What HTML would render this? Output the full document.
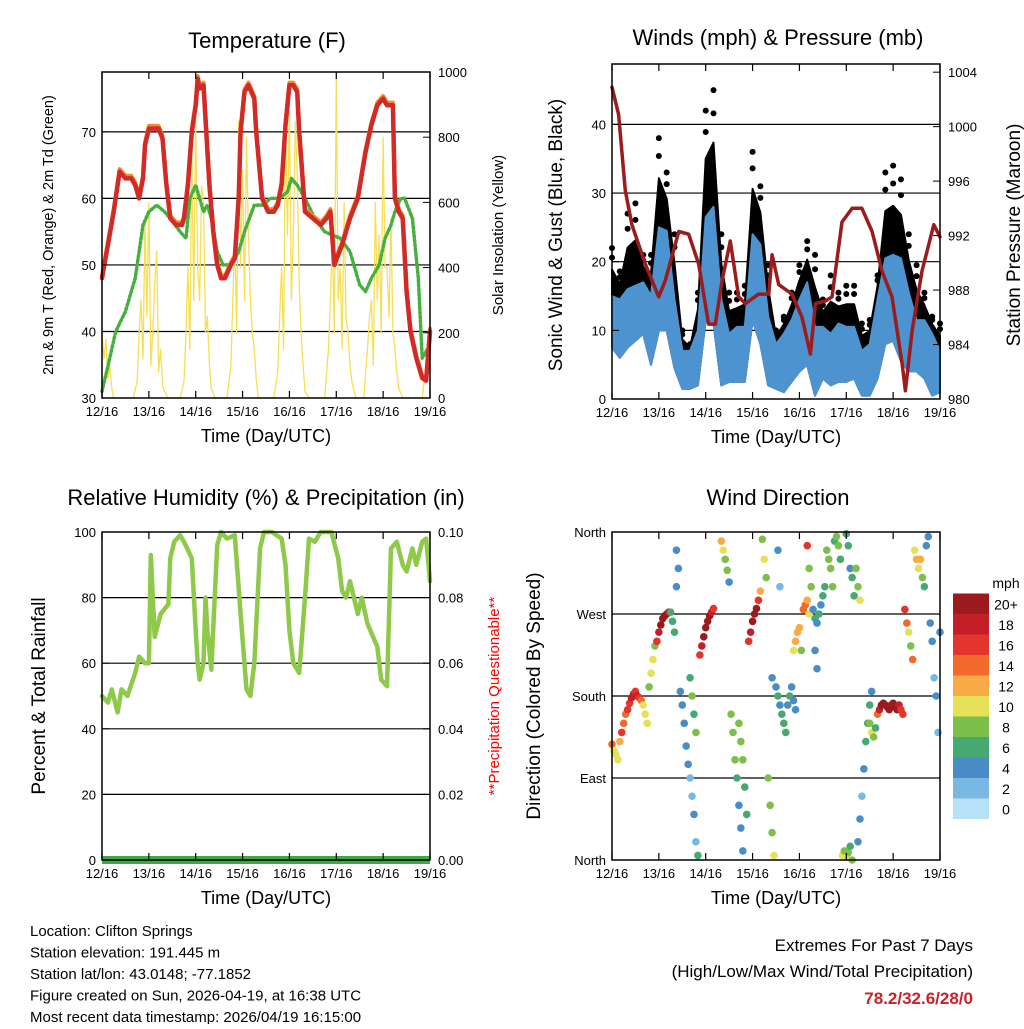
<!DOCTYPE html>
<html><head><meta charset="utf-8"><style>
body{margin:0;background:#fff;}
svg text{font-family:"Liberation Sans",sans-serif;fill:#000;}
</style></head><body>
<svg id="c" width="1024" height="1024" viewBox="0 0 1024 1024" xmlns="http://www.w3.org/2000/svg"></svg>
<script>
// ---------- DATA ----------
const dayLabels=["12/16","13/16","14/16","15/16","16/16","17/16","18/16","19/16"];
const tempHours=[0,3,6,9,12,15,17,19,21,22,24,27,29,31,33,35,38,41,42,44,46,48,49,50,52,53,55,57,59,61,63,66,68,70,71,73,75,78,79,82,85,88,90,92,94,96,98,100,101,104,108,112,115,117,119,123,127,131,135,138,141,144,146,149,150,152,154,156,158,161,164,166,168];
const tempVals=[48,53,58,64,63,63,62,60,63,68,70.5,70.5,70.5,69,62,57,56,56,57,62,70,74,78,76.5,77,72,62,55,50,48,48,50,51,60,70,76,77,75,70,60,58,58,59,62,71,77,77,76,70,58,57,56,57,58,50,53,57,60,67,71,74,75,74,74,60,58,57,46,40,36,33,32.6,40];
const dewHours=[0,4,7,12,17,19,21,24,28,32,35,40,43,45,48,52,54,56,59,62,66,70,73,78,83,86,91,95,97,100,104,109,114,122,127,132,135,138,142,145,148,150,153,155,159,162,164,168];
const dewVals=[31,36,40,43,48,52,56,58,59,58,57,55,54,60,62,58,59,57,52,50,50,52,55,59,59,60,60,61,63,62,60,57,55,54,52,47,46,48,50,54,56,58,60,60,57,48,36,38];
const solarHours=[0,1,2,3,4,5,6,16,18,19,20,21,22,23,24,25,26,27,28,29,30,31,32,34,40,42,43,44,45,46,47,48,49,50,51,52,53,54,55,56,58,64,66,67,68,69,70,71,72,73,74,75,76,77,78,79,80,88,90,91,92,93,94,95,96,97,98,99,100,101,102,103,104,106,114,116,117,118,119,120,121,122,123,124,125,126,127,128,130,134,136,137,138,139,140,141,142,143,144,145,146,147,148,149,150,151,152,154,164,166,168];
const solarVals=[200,120,180,60,100,30,0,0,50,200,300,120,550,250,600,100,200,350,450,80,150,40,20,0,0,50,200,400,150,750,300,850,400,300,650,600,200,250,100,30,0,0,100,300,500,200,850,400,700,300,800,500,300,200,150,60,0,0,80,250,400,150,880,500,900,300,500,850,700,350,200,100,20,0,0,150,300,500,200,1000,300,400,150,600,250,200,100,50,0,0,150,250,300,100,600,300,500,200,800,400,400,250,550,200,150,80,30,0,0,100,150];
// winds (4-hourly)
const windHours=[0,4,8,12,16,20,24,28,32,36,40,44,48,52,56,60,64,68,72,76,80,84,88,92,96,100,104,108,112,116,120,124,128,132,136,140,144,148,152,156,160,164,168];
const windLo=[7.5,6,7.5,8.5,9.5,5,10,10,4.5,1.5,1.5,2,11.5,11,2,2.5,2.5,2.5,11.5,8,2,1.5,1,2.5,4,5,0.5,3,2,2.5,2.5,3,0.5,0.5,3,8,8.5,5.5,4,4,3,0.5,1];
const windHi=[15,14.5,16,16.5,17,15,25,24.5,14.5,7,7,10,26.5,28,14.5,9.5,10.5,10.5,24,22.5,12,8,9.5,11.5,14.5,17,10.5,10.5,9.5,11,10.5,10.5,7,8,14.5,20.5,21,20.5,15.5,11.5,11.5,9.5,7];
const gustVals=[22,18.6,27,28.5,21,21,38,33,24,10,8,15.5,42,45,24,15.5,15.5,16.5,36,31,19.5,10,12,15.5,19.5,23,21,14.5,18,15.5,16.5,16.5,11,11.5,18,33,34,32,24,19.5,15.5,12,11];
const presHours=[0,3.4,6.8,10.2,17.1,23.9,27.3,34.2,39.3,44.4,49.5,52.9,56.4,60.6,64.9,68.3,75.1,80.3,82,85.4,92.2,97.3,101.6,104.2,109.3,112.7,117.8,123,128,133.2,138.3,143.4,148.6,150.3,153.7,158.8,164.8,168];
const presVals=[1002.9,1000.9,995.3,992.8,989.9,987.5,988.7,992.3,992.1,989.9,985.5,985.5,988.7,991.6,987.5,987,987.7,987.7,990.6,988.4,987.7,986,983.3,987,987.2,987.5,993,994,994,992.3,989.4,987.5,982.6,980.6,985,989.4,992.8,991.9];
// relative humidity
const rhHours=[0,3,5,8,10,13,17,19,22,24,25,27,30,34,35,37,40,42,46,48,49,50,52,53,54,56,59,61,64,68,71,74,76,78,81,83,87,92,94,96,98,101,104,106,109,112,117,117.5,121,123,125,127,131,133,136,141,143,146,148,151,154,156,159,161,164,166,168];
const rhVals=[50,48,52,45,52,50,57,62,60,60,93,68,75,78,92,97,99,97,92,70,60,55,60,80,70,58,96,100,98,99,75,52,50,60,95,100,100,98,90,70,60,57,80,98,97,100,100,100,92,82,80,85,75,80,72,65,55,53,95,97,90,88,95,90,97,98,85];
const precipHours=[0,168];
const precipVals=[0,0];
// wind direction observations
const dirHours=[0,1,2,3,4,5,6,7,8,9,10,11,12,13,14,15,16,17,18,19,20,21,22,23,24,25,26,27,28,29,30,31,32,33,33,34,35,36,37,38,39,40,41,42,43,44,40,41,42,43,45,46,47,48,49,50,51,52,56,57,58,59,60,61,62,63,64,65,66,67,65,66,67,68,69,70,71,72,73,74,75,76,77,78,79,80,81,82,83,82,84,85,86,87,88,89,90,91,92,93,94,85,86,93,94,95,96,97,98,99,100,101,100,101,102,103,104,105,106,107,108,109,104,105,110,111,112,113,114,115,116,117,118,119,120,121,122,123,120,121,122,123,124,125,126,127,126,127,128,129,130,131,132,133,132,133,134,135,136,137,138,139,140,141,142,143,144,145,146,147,148,149,150,151,152,153,154,155,156,157,158,159,160,161,162,163,164,165,166,167,168];
const dirVals=[127,120,116,110,130,140,150,160,165,172,178,182,185,180,178,175,170,160,150,190,205,220,235,240,250,258,265,268,270,272,272,262,250,340,300,320,185,170,150,125,105,90,70,50,20,5,200,180,160,140,225,235,245,255,262,268,272,276,350,340,330,318,305,160,140,110,90,60,35,10,150,130,110,80,50,240,250,262,270,276,285,295,352,330,310,90,60,30,5,200,190,180,170,160,150,140,170,180,190,175,165,340,300,230,240,250,255,230,275,280,285,270,345,320,300,275,265,260,270,280,290,300,230,210,340,330,320,300,350,355,345,330,5,10,3,8,15,0,358,345,320,310,290,320,300,285,20,45,70,100,130,150,170,185,150,140,135,145,160,165,170,172,170,168,165,170,172,168,165,170,165,160,275,260,250,235,220,340,330,320,330,310,300,345,355,260,240,200,180,140,250];
const dirSpeeds=[14,10,9,10,12,16,14,14,16,16,17,18,16,17,15,14,10,10,9,8,9,10,8,16,18,20,20,21,20,18,6,6,6,3,4,4,4,4,4,4,4,2,2,3,2,5,6,7,6,7,16,18,20,20,21,20,18,16,12,10,8,7,4,8,8,7,6,4,4,4,8,8,7,6,5,16,18,20,20,19,16,12,8,9,8,7,8,8,10,4,4,5,4,5,6,6,4,5,4,4,4,3,2,10,12,11,12,8,14,13,12,10,15,8,8,4,5,4,6,4,6,5,4,3,8,7,8,7,6,8,7,5,9,8,10,7,6,8,6,5,4,6,5,8,7,10,3,3,2,4,6,6,5,4,8,10,8,6,14,18,20,21,21,20,21,20,21,19,20,18,16,16,16,14,10,8,14,10,11,10,12,8,6,4,3,4,3,2,4,1,3];
const speedColors=["#b7e2f6","#7ab8e4","#4a8dc6","#48a872","#7cc04a","#e6e158","#f7aa45","#f26a2b","#e2352b","#c41f28","#9a1a1e"];
const speedLabels=["0","2","4","6","8","10","12","14","16","18","20+"];

// ---------- DRAW ----------
const svg=document.getElementById('c');
const NS="http://www.w3.org/2000/svg";
function el(tag,attrs,parent){const e=document.createElementNS(NS,tag);for(const k in attrs)e.setAttribute(k,attrs[k]);(parent||svg).appendChild(e);return e;}
function txt(s,x,y,size,anchor,parent,extra){const t=el('text',Object.assign({x:x,y:y,'font-size':size,'text-anchor':anchor||'middle'},extra||{}),parent);t.textContent=s;return t;}
function lin(d0,d1,r0,r1){return v=>r0+(v-d0)*(r1-r0)/(d1-d0);}

function panel(name){
  const g=el('g',{});
  
  
  return g;
}
function frame(g,x0,y0,x1,y1){
  const r=el('rect',{x:x0,y:y0,width:x1-x0,height:y1-y0,fill:'none',stroke:'#000','stroke-width':1.5},g);
  
  
}
function xAxis(g,x0,x1,y0,y1){
  const xs=lin(0,168,x0,x1);
  const ax=el('g',{},g);
  
  
  dayLabels.forEach((l,i)=>{
    const x=xs(i*24);
    el('line',{x1:x,x2:x,y1:y1,y2:y1-7,stroke:'#000','stroke-width':1.2},ax);
    el('line',{x1:x,x2:x,y1:y0,y2:y0+7,stroke:'#000','stroke-width':1.2},ax);
    const t=txt(l,x,y1+18,13,'middle',ax);
    
    
  });
  const t=txt('Time (Day/UTC)',(x0+x1)/2,y1+44,18,'middle',ax);
  
  
  return xs;
}
function grid(g,ys,vals,x0,x1){vals.forEach(v=>el('line',{x1:x0,x2:x1,y1:ys(v),y2:ys(v),stroke:'#000','stroke-width':1.2},g));}
function leftTicks(g,ys,vals,x0,labelFn,size){
  vals.forEach(v=>{el('line',{x1:x0,x2:x0+7,y1:ys(v),y2:ys(v),stroke:'#000'},g);
    const t=txt(labelFn(v),x0-6,ys(v)+5,size||13,'end',g);
    
    });
}
function rightTicks(g,ys,vals,x1,labelFn,size){
  vals.forEach(v=>{el('line',{x1:x1,x2:x1-7,y1:ys(v),y2:ys(v),stroke:'#000'},g);
    const t=txt(labelFn(v),x1+8,ys(v)+5,size||13,'start',g);
    
    });
}
function vlabel(g,s,x,y,size,name,color){
  const t=txt(s,x,y,size,'middle',g,{transform:`rotate(-90 ${x} ${y})`});
  if(color)t.setAttribute('style','fill:'+color);
  
  
}
function poly(g,xsF,ysF,hs,vs,attrs,name){
  const p=el('polyline',Object.assign({points:hs.map((h,i)=>xsF(h).toFixed(1)+','+ysF(vs[i]).toFixed(1)).join(' '),fill:'none','stroke-linejoin':'round','stroke-linecap':'round'},attrs),g);
  
  
  return p;
}
function band(g,xs,ys,hs,hi,lo,fill,name){
  const pts=hs.map((h,i)=>xs(h).toFixed(1)+','+ys(hi[i]).toFixed(1));
  for(let i=hs.length-1;i>=0;i--)pts.push(xs(hs[i]).toFixed(1)+','+ys(lo[i]).toFixed(1));
  const p=el('polygon',{points:pts.join(' '),fill:fill,stroke:fill,'stroke-width':2,'stroke-linejoin':'round'},g);
  
  
}

// Panel 1 Temperature
{
  const X0=102,X1=430,Y0=72,Y1=398;
  const g=panel('temperature-panel');
  const t=txt('Temperature (F)',267,48,22,'middle',g);
  const ys=lin(30,79,Y1,Y0), ys2=lin(0,1000,Y1,Y0);
  const xs=lin(0,168,X0,X1);
  grid(g,ys,[40,50,60,70],X0,X1);
  poly(g,xs,ys2,solarHours,solarVals,{stroke:'#f7df55','stroke-width':1.3},'solar-insolation-line');
  poly(g,xs,ys,dewHours,dewVals,{stroke:'#46b03e','stroke-width':3.5,'stroke-dasharray':'2 2.5'},'dewpoint-line');
  poly(g,xs,ys,tempHours,tempVals.map(v=>v+0.4),{stroke:'#f2892c','stroke-width':4},'temp-9m-line');
  poly(g,xs,ys,tempHours,tempVals,{stroke:'#d22a26','stroke-width':4.5},'temp-2m-line');
  frame(g,X0,Y0,X1,Y1);
  leftTicks(g,ys,[30,40,50,60,70],X0,v=>v);
  rightTicks(g,ys2,[0,200,400,600,800,1000],X1,v=>v);
  xAxis(g,X0,X1,Y0,Y1);
  vlabel(g,'2m & 9m T (Red, Orange) & 2m Td (Green)',53,235,14.5,'y-axis-title');
  vlabel(g,'Solar Insolation (Yellow)',503,235,15,'y2-axis-title');
}
// Panel 2 Winds
{
  const X0=612,X1=940,Y0=64,Y1=399;
  const g=panel('winds-panel');
  const t=txt('Winds (mph) & Pressure (mb)',778,45,22,'middle',g);
  const ys=lin(0,48.8,Y1,Y0), ys2=lin(980,1004.6,Y1,Y0);
  const xs=lin(0,168,X0,X1);
  grid(g,ys,[10,20,30,40],X0,X1);
  band(g,xs,ys,windHours,gustVals.map((v,i)=>windHi[i]+(v-windHi[i])*0.55),windLo,'#000','gust-band');
  windHours.forEach((h,i)=>{
    [gustVals[i],windHi[i]+(gustVals[i]-windHi[i])*0.8].forEach(v=>{
      const c=el('circle',{cx:xs(h),cy:ys(v),r:3,fill:'#000'},g);
      
      
    });
  });
  band(g,xs,ys,windHours,windHi,windLo,'#4d93cf','wind-speed-band');
  poly(g,xs,ys2,presHours,presVals,{stroke:'#9b1c1c','stroke-width':3.5},'pressure-line');
  frame(g,X0,Y0,X1,Y1);
  leftTicks(g,ys,[0,10,20,30,40],X0,v=>v);
  rightTicks(g,ys2,[980,984,988,992,996,1000,1004],X1,v=>v);
  xAxis(g,X0,X1,Y0,Y1);
  vlabel(g,'Sonic Wind & Gust (Blue, Black)',562,235,19,'y-axis-title');
  vlabel(g,'Station Pressure (Maroon)',1020,235,19,'y2-axis-title');
}
// Panel 3 RH
{
  const X0=102,X1=430,Y0=532,Y1=860;
  const g=panel('humidity-panel');
  const t=txt('Relative Humidity (%) & Precipitation (in)',266,505,22,'middle',g);
  const ys=lin(0,100,Y1,Y0), ys2=lin(0,0.1,Y1,Y0);
  const xs=lin(0,168,X0,X1);
  grid(g,ys,[20,40,60,80],X0,X1);
  poly(g,xs,ys,rhHours,rhVals,{stroke:'#8ec94a','stroke-width':4.5},'humidity-line');
  poly(g,xs,ys2,precipHours,precipVals,{stroke:'#3fa844','stroke-width':8,'stroke-linecap':'butt'},'precip-line');
  frame(g,X0,Y0,X1,Y1);
  leftTicks(g,ys,[0,20,40,60,80,100],X0,v=>v);
  rightTicks(g,ys2,[0,0.02,0.04,0.06,0.08,0.1],X1,v=>v.toFixed(2));
  xAxis(g,X0,X1,Y0,Y1);
  vlabel(g,'Percent & Total Rainfall',45,696,19,'y-axis-title');
  vlabel(g,'**Precipitation Questionable**',499,696,15,'precip-warning','#f00');
}
// Panel 4 Wind direction
{
  const X0=612,X1=940,Y0=532,Y1=860;
  const g=panel('wind-direction-panel');
  const t=txt('Wind Direction',778,505,22,'middle',g);
  const ys=lin(0,360,Y1,Y0);
  const xs=lin(0,168,X0,X1);
  grid(g,ys,[90,180,270],X0,X1);
  const ci=s=>Math.max(0,Math.min(10,Math.round(s/2)));
  const n=Math.min(dirHours.length,dirVals.length,dirSpeeds.length);
  for(let i=0;i<n;i++){
    const c=el('circle',{cx:xs(dirHours[i]),cy:ys(dirVals[i]),r:3.8,fill:speedColors[ci(dirSpeeds[i])]},g);
    
    
  }
  frame(g,X0,Y0,X1,Y1);
  leftTicks(g,ys,[0,90,180,270,360],X0,v=>({0:'North',90:'East',180:'South',270:'West',360:'North'})[v]);
  xAxis(g,X0,X1,Y0,Y1);
  vlabel(g,'Direction (Colored By Speed)',540,696,19,'y-axis-title');
  const cb=el('g',{},g);
  
  
  txt('mph',1006,588,14,'middle',cb);
  speedColors.forEach((c,i)=>{
    const y=819-(i+1)*20.5;
    el('rect',{x:953,y:y,width:36,height:20.5,fill:c},cb);
    txt(speedLabels[i],1006,y+16,14,'middle',cb);
  });
}
// footer text
{
  const g=el('g',{});
  
  
  ["Location: Clifton Springs","Station elevation: 191.445 m","Station lat/lon: 43.0148; -77.1852","Figure created on Sun, 2026-04-19, at 16:38 UTC","Most recent data timestamp: 2026/04/19 16:15:00"].forEach((s,i)=>txt(s,30,936+i*21.5,15,'start',g));
  const g2=el('g',{});
  
  
  txt('Extremes For Past 7 Days',973,951,17,'end',g2);
  txt('(High/Low/Max Wind/Total Precipitation)',973,977,17,'end',g2);
  const r=txt('78.2/32.6/28/0',973,1004,17,'end',g2,{'font-weight':'bold'});
  r.setAttribute('style','fill:#c8232a');
}
</script>
</body></html>
